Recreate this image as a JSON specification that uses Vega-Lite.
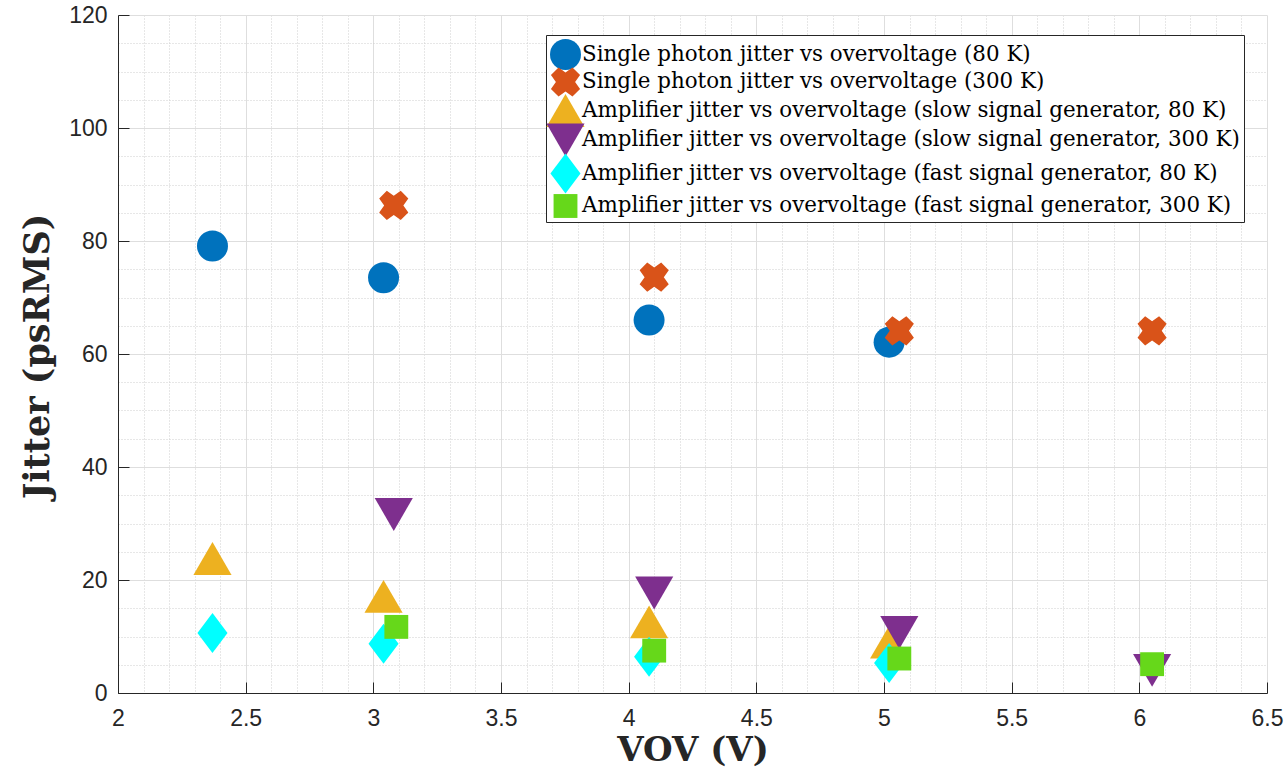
{
  "$schema": "https://vega.github.io/schema/vega-lite/v6.json",
  "width": 1149,
  "height": 678,
  "autosize": {"type": "none"},
  "padding": {"left": 118, "top": 15, "right": 20, "bottom": 85},
  "background": "white",
  "config": {
    "view": {"stroke": null},
    "axis": {
      "domainColor": "#262626",
      "domainWidth": 1,
      "tickColor": "#262626",
      "tickSize": -11,
      "labelColor": "#262626",
      "labelFont": "Liberation Sans",
      "labelFontSize": 23,
      "labelFontWeight": "normal",
      "titleColor": "#262626",
      "titleFont": "DejaVu Serif",
      "titleFontWeight": "bold",
      "labelOverlap": false,
      "labelBound": false,
      "labelFlush": false
    }
  },
  "data": {
    "values": [
      {"series": "Single photon jitter vs overvoltage (80 K)", "v": 2.37, "j": 79.1},
      {"series": "Single photon jitter vs overvoltage (80 K)", "v": 3.04, "j": 73.5},
      {"series": "Single photon jitter vs overvoltage (80 K)", "v": 4.08, "j": 66.0},
      {"series": "Single photon jitter vs overvoltage (80 K)", "v": 5.02, "j": 62.1},
      {"series": "Single photon jitter vs overvoltage (300 K)", "v": 3.08, "j": 86.3},
      {"series": "Single photon jitter vs overvoltage (300 K)", "v": 4.10, "j": 73.6},
      {"series": "Single photon jitter vs overvoltage (300 K)", "v": 5.06, "j": 64.1},
      {"series": "Single photon jitter vs overvoltage (300 K)", "v": 6.05, "j": 64.1},
      {"series": "Amplifier jitter vs overvoltage (slow signal generator, 80 K)", "v": 2.37, "j": 23.8},
      {"series": "Amplifier jitter vs overvoltage (slow signal generator, 80 K)", "v": 3.04, "j": 17.1},
      {"series": "Amplifier jitter vs overvoltage (slow signal generator, 80 K)", "v": 4.08, "j": 12.6},
      {"series": "Amplifier jitter vs overvoltage (slow signal generator, 80 K)", "v": 5.02, "j": 9.0},
      {"series": "Amplifier jitter vs overvoltage (slow signal generator, 300 K)", "v": 3.08, "j": 31.6},
      {"series": "Amplifier jitter vs overvoltage (slow signal generator, 300 K)", "v": 4.10, "j": 17.7},
      {"series": "Amplifier jitter vs overvoltage (slow signal generator, 300 K)", "v": 5.06, "j": 10.7},
      {"series": "Amplifier jitter vs overvoltage (slow signal generator, 300 K)", "v": 6.05, "j": 4.0},
      {"series": "Amplifier jitter vs overvoltage (fast signal generator, 80 K)", "v": 2.37, "j": 10.6},
      {"series": "Amplifier jitter vs overvoltage (fast signal generator, 80 K)", "v": 3.04, "j": 8.7},
      {"series": "Amplifier jitter vs overvoltage (fast signal generator, 80 K)", "v": 4.08, "j": 6.4},
      {"series": "Amplifier jitter vs overvoltage (fast signal generator, 80 K)", "v": 5.02, "j": 5.3},
      {"series": "Amplifier jitter vs overvoltage (fast signal generator, 300 K)", "v": 3.09, "j": 11.7},
      {"series": "Amplifier jitter vs overvoltage (fast signal generator, 300 K)", "v": 4.10, "j": 7.5},
      {"series": "Amplifier jitter vs overvoltage (fast signal generator, 300 K)", "v": 5.06, "j": 6.1},
      {"series": "Amplifier jitter vs overvoltage (fast signal generator, 300 K)", "v": 6.05, "j": 5.1}
    ]
  },
  "mark": {"type": "point", "filled": true, "opacity": 1, "strokeWidth": 0, "size": 961},
  "encoding": {
    "x": {
      "field": "v", "type": "quantitative",
      "scale": {"domain": [2, 6.5], "nice": false, "zero": false},
      "axis": {
        "title": "VOV (V)",
        "titleFontSize": 34,
        "titleY": 67,
        "titleBaseline": "alphabetic",
        "values": [2, 2.1, 2.2, 2.3, 2.4, 2.5, 2.6, 2.7, 2.8, 2.9, 3, 3.1, 3.2, 3.3, 3.4, 3.5, 3.6, 3.7, 3.8, 3.9, 4, 4.1, 4.2, 4.3, 4.4, 4.5, 4.6, 4.7, 4.8, 4.9, 5, 5.1, 5.2, 5.3, 5.4, 5.5, 5.6, 5.7, 5.8, 5.9, 6, 6.1, 6.2, 6.3, 6.4, 6.5],
        "format": "~g",
        "labelExpr": "abs(datum.value*2 - round(datum.value*2)) < 0.001 ? datum.label : ''",
        "labelPadding": 25,
        "grid": true,
        "gridColor": {"condition": {"test": "abs(datum.value*2 - round(datum.value*2)) < 0.001", "value": "#dedede"}, "value": "#cfcfcf"},
        "gridDash": {"condition": {"test": "abs(datum.value*2 - round(datum.value*2)) < 0.001", "value": []}, "value": [1, 2]},
        "gridWidth": 1,
        "tickOpacity": {"condition": {"test": "abs(datum.value*2 - round(datum.value*2)) < 0.001", "value": 1}, "value": 0}
      }
    },
    "y": {
      "field": "j", "type": "quantitative",
      "scale": {"domain": [0, 120], "nice": false},
      "axis": {
        "title": "Jitter (psRMS)",
        "titleFontSize": 35,
        "titleAngle": -90,
        "titleX": -81,
        "titleY": 341,
        "titleAlign": "center",
        "titleBaseline": "middle",
        "values": [0, 5, 10, 15, 20, 25, 30, 35, 40, 45, 50, 55, 60, 65, 70, 75, 80, 85, 90, 95, 100, 105, 110, 115, 120],
        "labelExpr": "datum.value % 20 == 0 ? datum.label : ''",
        "labelPadding": 22,
        "grid": true,
        "gridColor": {"condition": {"test": "datum.value % 20 == 0", "value": "#dedede"}, "value": "#cfcfcf"},
        "gridDash": {"condition": {"test": "datum.value % 20 == 0", "value": []}, "value": [1, 2]},
        "gridWidth": 1,
        "tickOpacity": {"condition": {"test": "datum.value % 20 == 0", "value": 1}, "value": 0}
      }
    },
    "color": {
      "field": "series", "type": "nominal",
      "scale": {
        "domain": [
          "Single photon jitter vs overvoltage (80 K)",
          "Single photon jitter vs overvoltage (300 K)",
          "Amplifier jitter vs overvoltage (slow signal generator, 80 K)",
          "Amplifier jitter vs overvoltage (slow signal generator, 300 K)",
          "Amplifier jitter vs overvoltage (fast signal generator, 80 K)",
          "Amplifier jitter vs overvoltage (fast signal generator, 300 K)"
        ],
        "range": ["#0072BD", "#D95319", "#EDB120", "#7E2F8E", "#00FFFF", "#66D81A"]
      },
      "legend": {
        "title": null,
        "orient": "none",
        "legendX": 428,
        "legendY": 20,
        "strokeColor": "#262626",
        "fillColor": "white",
        "padding": 4,
        "symbolSize": 961,
        "symbolStrokeWidth": 0,
        "symbolOpacity": 1,
        "labelFont": "DejaVu Serif",
        "labelFontSize": 21.4,
        "labelColor": "#000000",
        "labelOffset": 1,
        "labelLimit": 0,
        "gridAlign": "none",
        "rowPadding": -3.5
      }
    },
    "shape": {
      "field": "series", "type": "nominal",
      "scale": {
        "domain": [
          "Single photon jitter vs overvoltage (80 K)",
          "Single photon jitter vs overvoltage (300 K)",
          "Amplifier jitter vs overvoltage (slow signal generator, 80 K)",
          "Amplifier jitter vs overvoltage (slow signal generator, 300 K)",
          "Amplifier jitter vs overvoltage (fast signal generator, 80 K)",
          "Amplifier jitter vs overvoltage (fast signal generator, 300 K)"
        ],
        "range": [
          "circle",
          "M-0.94,-0.45L-0.45,-0.94L0,-0.62L0.45,-0.94L0.94,-0.45L0.62,0L0.94,0.45L0.45,0.94L0,0.62L-0.45,0.94L-0.94,0.45L-0.62,0Z",
          "M0,-1.06L1.23,1.06L-1.23,1.06Z",
          "M0,1.06L1.23,-1.06L-1.23,-1.06Z",
          "M0,-1.29L0.97,0L0,1.29L-0.97,0Z",
          "M-0.77,-0.77L0.77,-0.77L0.77,0.77L-0.77,0.77Z"
        ]
      },
      "legend": null
    }
  }
}
